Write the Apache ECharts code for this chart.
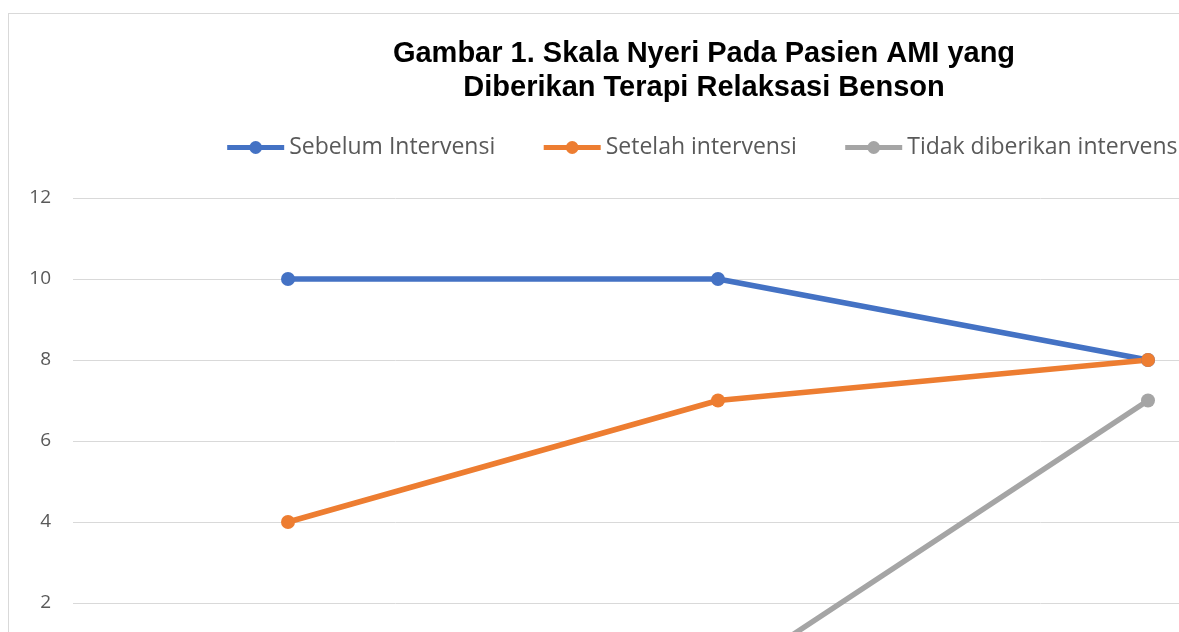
<!DOCTYPE html>
<html>
<head>
<meta charset="utf-8">
<script src="https://cdn.jsdelivr.net/npm/echarts@6/dist/echarts.min.js"></script>
<style>
html, body { margin: 0; padding: 0; background: #fff; overflow: hidden; width: 1179px; height: 632px; }
#box { position: absolute; left: 8px; top: 13px; width: 1390px; height: 730px; border: 1px solid #d9d9d9; }
#chart { width: 1390px; height: 730px; }
</style>
</head>
<body>
<div id="box"><div id="chart"></div></div>
<script>
// data
var kategori = ['Pasien 1', 'Pasien 2', 'Pasien 3'];
var sebelum = [10, 10, 8];
var setelah = [4, 7, 8];
var tidakDiberikan = [0, 0, 7];

var myChart = echarts.init(document.getElementById('chart'));

function seri(nama, warna, data) {
    return {
        name: nama,
        type: 'line',
        data: data,
        symbol: 'circle',
        symbolSize: 14,
        lineStyle: { width: 5.5, color: warna },
        itemStyle: { color: warna },
        emphasis: { disabled: true }
    };
}

var option = {
    animation: false,
    title: {
        text: 'Gambar 1. Skala Nyeri Pada Pasien AMI yang\nDiberikan Terapi Relaksasi Benson',
        left: 'center',
        top: 18,
        textStyle: {
            fontFamily: 'Liberation Sans',
            fontSize: 29,
            fontWeight: 'bold',
            lineHeight: 34,
            color: '#000'
        }
    },
    legend: {
        top: 117,
        left: 'center',
        itemWidth: 57,
        itemHeight: 16,
        itemGap: 46,
        lineStyle: { width: 5 },
        textStyle: { fontFamily: 'Open Sans', fontSize: 23, color: '#595959' },
        data: ['Sebelum Intervensi', 'Setelah intervensi', 'Tidak diberikan intervensi']
    },
    grid: {
        left: 64,
        top: 184,
        width: 1290,
        height: 486
    },
    xAxis: {
        type: 'category',
        data: kategori,
        axisLine: { lineStyle: { color: '#d9d9d9' } },
        axisTick: { show: false },
        axisLabel: { fontFamily: 'Open Sans', fontSize: 19, color: '#595959' }
    },
    yAxis: {
        type: 'value',
        min: 0,
        max: 12,
        interval: 2,
        axisLine: { show: false },
        axisTick: { show: false },
        axisLabel: { fontFamily: 'Open Sans', fontSize: 19, color: '#595959', margin: 22 },
        splitLine: { lineStyle: { color: '#d9d9d9', width: 1 } }
    },
    series: [
        seri('Sebelum Intervensi', '#4472C4', sebelum),
        seri('Setelah intervensi', '#ED7D31', setelah),
        seri('Tidak diberikan intervensi', '#A5A5A5', tidakDiberikan)
    ]
};

myChart.setOption(option);
</script>
</body>
</html>
